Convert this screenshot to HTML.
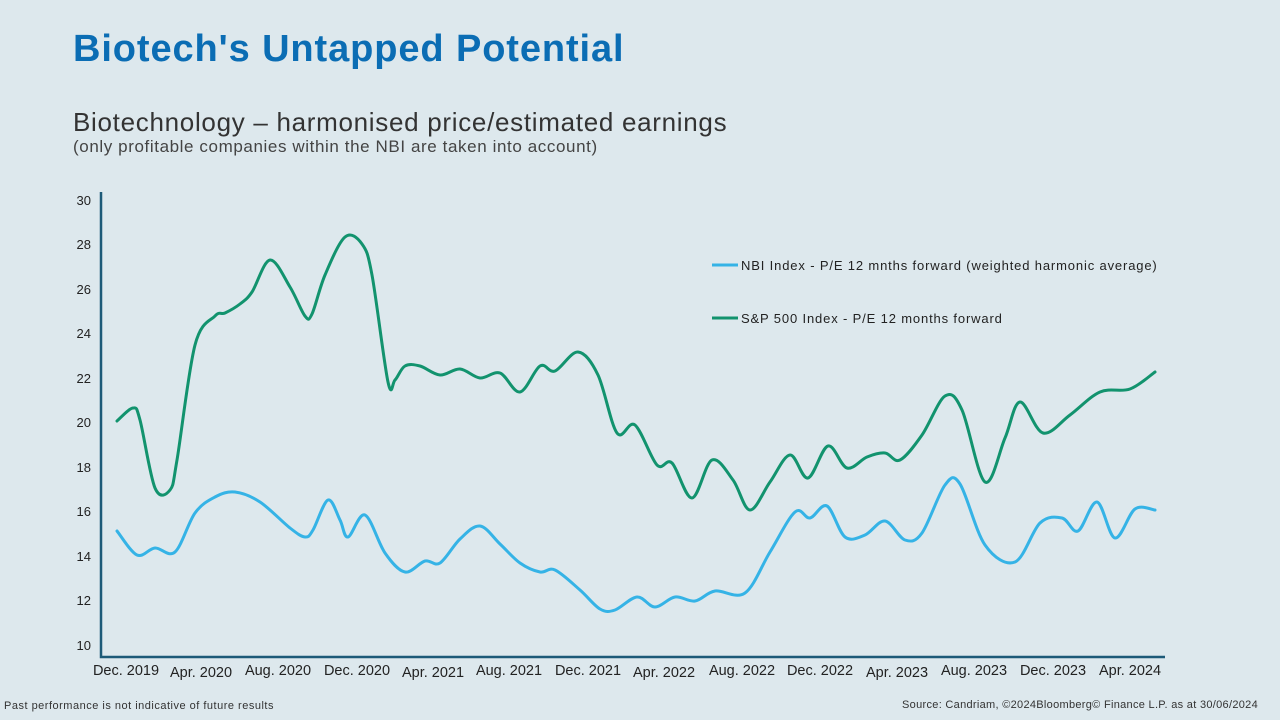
<!DOCTYPE html>
<html><head><meta charset="utf-8"><style>
body{margin:0;width:1280px;height:720px;background:#dde8ed;font-family:"Liberation Sans",sans-serif;overflow:hidden;position:relative}
.t{position:absolute;white-space:nowrap}
</style></head><body>
<div class="t" style="left:73px;top:28px;font-size:38px;font-weight:bold;color:#0b6db4;letter-spacing:0.9px">Biotech's Untapped Potential</div>
<div class="t" style="left:73px;top:107px;font-size:26px;color:#333;letter-spacing:0.7px">Biotechnology – harmonised price/estimated earnings</div>
<div class="t" style="left:73px;top:137px;font-size:17px;color:#444;letter-spacing:0.6px">(only profitable companies within the NBI are taken into account)</div>
<div class="t" style="left:4px;top:700px;font-size:11px;color:#333;letter-spacing:0.5px">Past performance is not indicative of future results</div>
<div class="t" style="right:22px;top:699px;font-size:11px;color:#333;letter-spacing:0.3px">Source: Candriam, ©2024Bloomberg© Finance L.P. as at 30/06/2024</div>
<svg width="1280" height="720" style="position:absolute;left:0;top:0" font-family="Liberation Sans, sans-serif">
<g font-size="13" fill="#222" text-anchor="end">
<text x="91" y="205">30</text><text x="91" y="249">28</text><text x="91" y="294">26</text><text x="91" y="338">24</text><text x="91" y="383">22</text><text x="91" y="427">20</text><text x="91" y="472">18</text><text x="91" y="516">16</text><text x="91" y="561">14</text><text x="91" y="605">12</text><text x="91" y="650">10</text>
</g>
<path d="M101 192V657H1165" fill="none" stroke="#1d5a78" stroke-width="2.5"/>
<g font-size="14.5" fill="#222" text-anchor="middle">
<text x="126" y="675">Dec. 2019</text><text x="201" y="677">Apr. 2020</text><text x="278" y="675">Aug. 2020</text><text x="357" y="675">Dec. 2020</text><text x="433" y="677">Apr. 2021</text><text x="509" y="675">Aug. 2021</text><text x="588" y="675">Dec. 2021</text><text x="664" y="677">Apr. 2022</text><text x="742" y="675">Aug. 2022</text><text x="820" y="675">Dec. 2022</text><text x="897" y="677">Apr. 2023</text><text x="974" y="675">Aug. 2023</text><text x="1053" y="675">Dec. 2023</text><text x="1130" y="675">Apr. 2024</text>
</g>
<path id="g" fill="none" stroke="#12936e" stroke-width="3" stroke-linecap="round"/>
<path id="b" fill="none" stroke="#35b3e6" stroke-width="3" stroke-linecap="round"/>
<line x1="712" y1="265" x2="738" y2="265" stroke="#35b3e6" stroke-width="3"/>
<line x1="712" y1="318" x2="738" y2="318" stroke="#12936e" stroke-width="3"/>
<g font-size="13" fill="#222" letter-spacing="0.85"><text x="741" y="270">NBI Index - P/E 12 mnths forward (weighted harmonic average)</text><text x="741" y="323">S&amp;P 500 Index - P/E 12 months forward</text></g>
</svg>
<script>
function cr(p){let d="M"+p[0][0]+" "+p[0][1];for(let i=0;i<p.length-1;i++){const a=p[Math.max(i-1,0)],b=p[i],c=p[i+1],e=p[Math.min(i+2,p.length-1)];d+=" C"+(b[0]+(c[0]-a[0])/6)+" "+(b[1]+(c[1]-a[1])/6)+" "+(c[0]-(e[0]-b[0])/6)+" "+(c[1]-(e[1]-b[1])/6)+" "+c[0]+" "+c[1];}return d;}
const G=[[117,421],[133,408],[140,420],[155,488],[170,490],[177,460],[195,345],[215,316],[225,313],[240,304],[252,292],[270,260],[290,287],[305,316],[312,314],[325,275],[345,237],[362,244],[372,275],[388,382],[395,380],[405,366],[420,366],[440,375],[460,369],[480,378],[500,373],[520,392],[540,366],[555,371],[578,352],[598,375],[617,433],[635,425],[657,465],[672,463],[692,498],[712,460],[733,480],[750,510],[770,482],[790,455],[808,478],[828,446],[847,468],[867,457],[885,453],[900,460],[922,435],[945,396],[962,410],[985,482],[1005,438],[1020,402],[1043,433],[1070,415],[1100,392],[1130,389],[1155,372]];
const B=[[117,531],[137,555],[155,548],[175,552],[195,513],[215,497],[235,492],[260,502],[290,528],[305,537],[313,530],[328,500],[340,520],[348,537],[365,515],[385,553],[405,572],[425,561],[440,563],[460,539],[480,526],[500,544],[520,563],[540,572],[555,570],[580,590],[600,609],[615,610],[637,597],[655,607],[675,597],[695,601],[715,591],[745,593],[770,552],[795,512],[810,518],[827,506],[845,537],[865,535],[885,521],[905,540],[922,533],[945,485],[960,484],[985,545],[1015,562],[1040,523],[1062,518],[1078,531],[1097,502],[1115,538],[1135,509],[1155,510]];
document.getElementById("g").setAttribute("d",cr(G));
document.getElementById("b").setAttribute("d",cr(B));
</script>
</body></html>
